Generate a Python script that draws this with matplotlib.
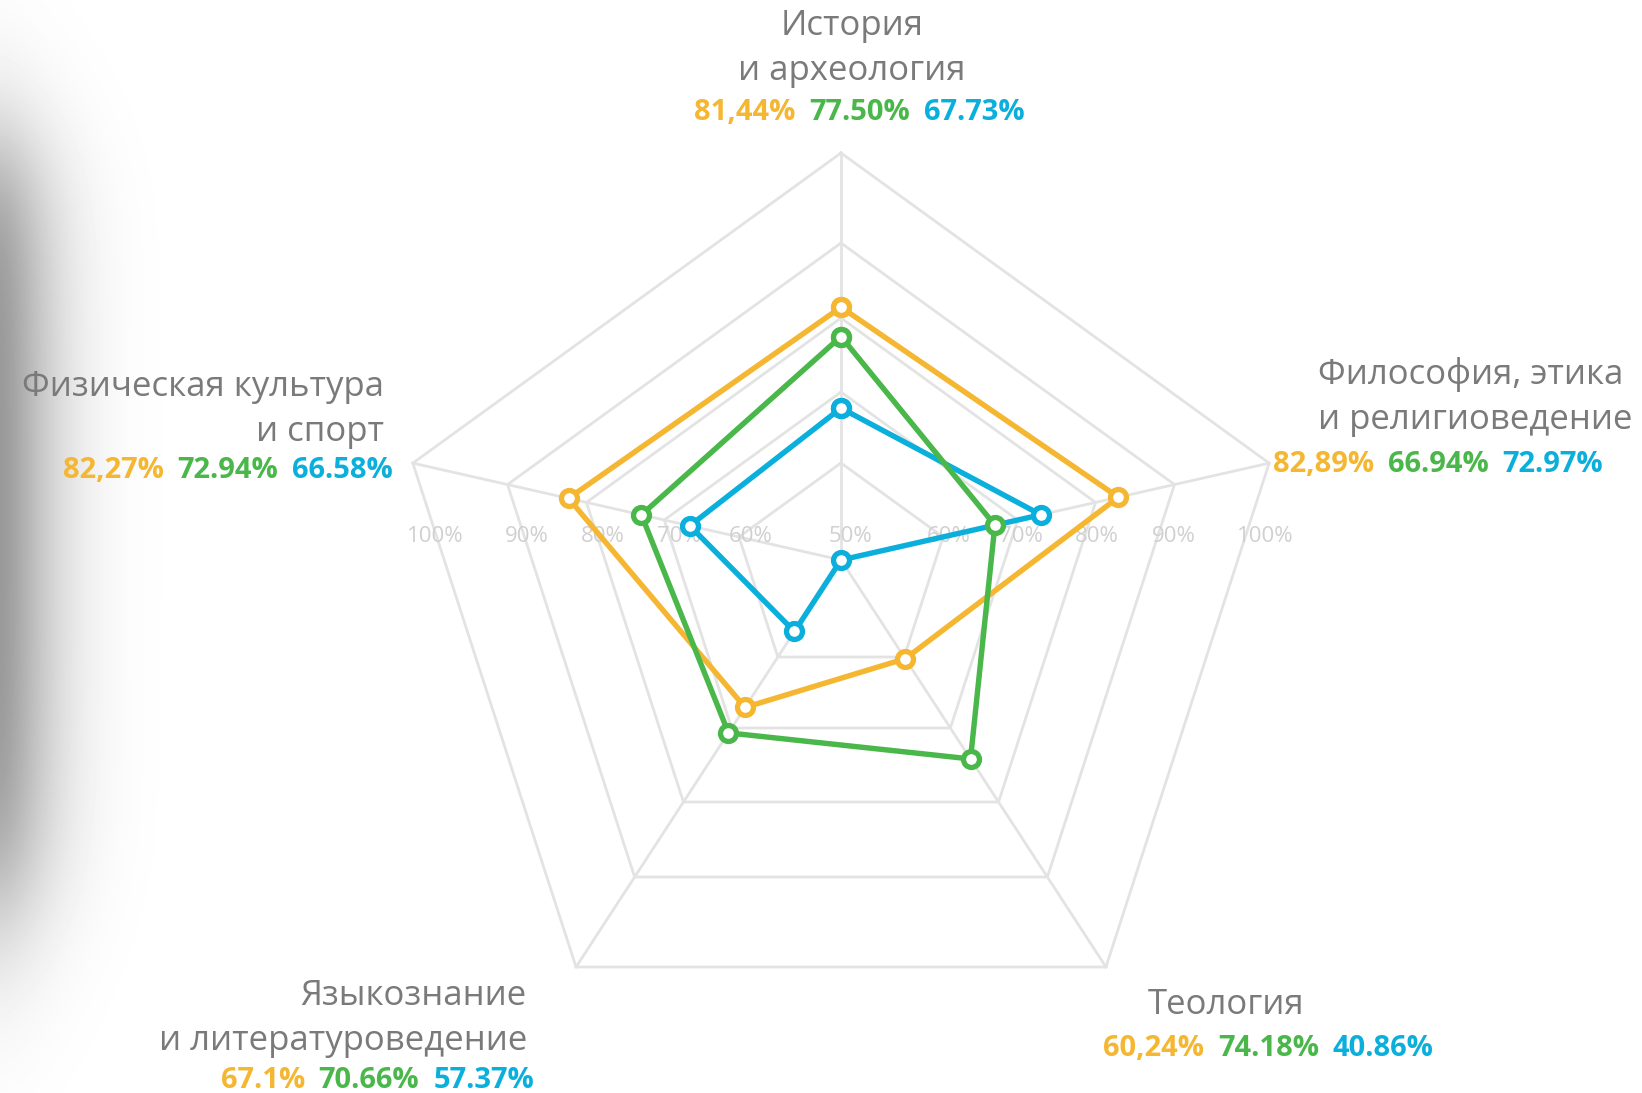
import matplotlib
matplotlib.use("Agg")
import matplotlib.pyplot as plt
import numpy as np
from matplotlib.offsetbox import AnnotationBbox, HPacker, TextArea

# categories, clockwise from the top
categories = [
    "История\nи археология",
    "Философия, этика\nи религиоведение",
    "Теология",
    "Языкознание\nи литературоведение",
    "Физическая культура\nи спорт",
]
orange_values = [81.44, 82.89, 60.24, 67.1, 82.27]
green_values = [77.50, 66.94, 74.18, 70.66, 72.94]
blue_values = [67.73, 72.97, 40.86, 57.37, 66.58]

orange_labels = ["81,44%", "82,89%", "60,24%", "67.1%", "82,27%"]
green_labels = ["77.50%", "66.94%", "74.18%", "70.66%", "72.94%"]
blue_labels = ["67.73%", "72.97%", "40.86%", "57.37%", "66.58%"]

scale_ticks = [50, 60, 70, 80, 90, 100]
scale_tick_labels = ["50%", "60%", "70%", "80%", "90%", "100%"]

ORANGE = "#F5B731"
GREEN = "#49B749"
BLUE = "#0AAFDC"
NAME_COLOR = "#7a7a7a"
GRID_COLOR = "#e3e3e3"
TICK_COLOR = "#d0d0d0"
FONT = ["Open Sans", "DejaVu Sans"]

W, H = 1642, 1093
CX, CY = 841, 560
# radius (px) of each grid ring, matching scale_ticks
RING_RADII = [0, 97, 168, 242, 317, 407]
# the grid is a stretched pentagon, so each spoke has its own direction
AXIS_DIRS = np.array([
    [0.0, -1.0],
    [1.052, -0.238],
    [0.651, 1.0],
    [-0.651, 1.0],
    [-1.052, -0.238],
])

# where each category's text block sits: (x, first line y, ha), (x, y, ha) of the values row
LABEL_LAYOUT = [
    ((852, 26, "center"), (859, 112, "center")),
    ((1318, 375, "left"), (1273, 464, "left")),
    ((1148, 1005, "left"), (1103, 1049, "left")),
    ((527, 996, "right"), (534, 1080, "right")),
    ((384, 387, "right"), (393, 470, "right")),
]
LINE_STEP = 45


def to_xy(values):
    r = np.interp(values, scale_ticks, RING_RADII)
    return CX + r * AXIS_DIRS[:, 0], CY + r * AXIS_DIRS[:, 1]


def draw_background(ax):
    xs, ys = np.meshgrid(np.arange(W), np.arange(H))
    horiz = np.exp(-(xs / 58.0) ** 1.5)
    vert = 1 / (1 + np.exp(-(ys - 150) / 45.0)) / (1 + np.exp((ys - 900) / 55.0))
    shade = 1 - 0.4 * horiz * vert
    ax.imshow(shade, cmap="gray", vmin=0, vmax=1, extent=(0, W, H, 0),
              aspect="auto", zorder=0, interpolation="bilinear")


def draw_grid(ax):
    for r in RING_RADII[1:]:
        px = CX + r * AXIS_DIRS[:, 0]
        py = CY + r * AXIS_DIRS[:, 1]
        ax.plot(np.append(px, px[0]), np.append(py, py[0]), color=GRID_COLOR,
                lw=2.0, zorder=1, solid_joinstyle="miter")
    outer = RING_RADII[-1]
    for dx, dy in AXIS_DIRS:
        ax.plot([CX, CX + outer * dx], [CY, CY + outer * dy], color=GRID_COLOR,
                lw=2.0, zorder=1)

    # scale labels along one row through the chart
    row_y = 536
    for tick, lab, r in zip(scale_ticks, scale_tick_labels, RING_RADII):
        sides = [0] if r == 0 else [-1, 1]
        for s in sides:
            ax.text(CX + 9 + s * r * 1.02, row_y, lab, color=TICK_COLOR,
                    fontsize=16, family=FONT, ha="center", va="center", zorder=1.5)


def draw_series(ax):
    for values, color, z in [(orange_values, ORANGE, 3), (blue_values, BLUE, 4),
                             (green_values, GREEN, 5)]:
        x, y = to_xy(values)
        ax.plot(np.append(x, x[0]), np.append(y, y[0]), color=color, lw=3.9,
                marker="o", ms=11.5, mfc="white", mec=color, mew=3.8, zorder=z,
                solid_joinstyle="round")


def draw_labels(ax):
    align_box = {"left": 0.0, "center": 0.5, "right": 1.0}
    for i, name in enumerate(categories):
        (nx, ny, nha), (vx, vy, vha) = LABEL_LAYOUT[i]
        for k, line in enumerate(name.split("\n")):
            ax.text(nx, ny + k * LINE_STEP, line, color=NAME_COLOR, fontsize=25,
                    family=FONT, ha=nha, va="center", zorder=6)

        parts = []
        for lab, color in [(orange_labels[i], ORANGE), (green_labels[i], GREEN),
                           (blue_labels[i], BLUE)]:
            parts.append(TextArea(lab, textprops=dict(color=color, fontsize=21,
                                                      fontweight="bold", family=FONT)))
        row = HPacker(children=parts, align="baseline", pad=0, sep=10)
        ab = AnnotationBbox(row, (vx, vy), xycoords="data", frameon=False, pad=0,
                            box_alignment=(align_box[vha], 0.5), zorder=6)
        ax.add_artist(ab)


def main():
    fig = plt.figure(figsize=(W / 100, H / 100), dpi=100)
    ax = fig.add_axes([0, 0, 1, 1])
    ax.set_xlim(0, W)
    ax.set_ylim(H, 0)
    ax.axis("off")

    draw_background(ax)
    draw_grid(ax)
    draw_series(ax)
    draw_labels(ax)

    fig.savefig("out.png", dpi=100, facecolor="white")
    plt.close(fig)


if __name__ == "__main__":
    main()
